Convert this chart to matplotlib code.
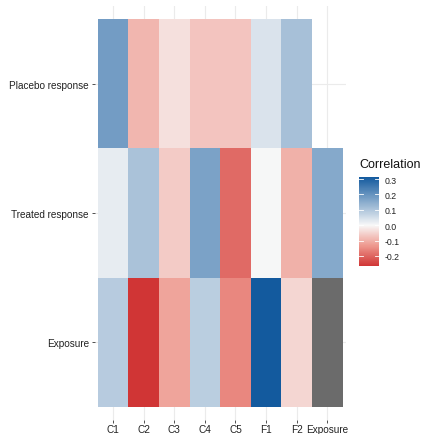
import matplotlib
matplotlib.use("Agg")
import matplotlib.pyplot as plt
import numpy as np
from matplotlib.colors import LinearSegmentedColormap, Normalize
from matplotlib.cm import ScalarMappable

plt.rcParams['font.family'] = ['Liberation Sans', 'DejaVu Sans']

# correlation of each variable with the three outcomes
variables = ["C1", "C2", "C3", "C4", "C5", "F1", "F2", "Exposure"]
outcomes = ["Exposure", "Treated response", "Placebo response"]   # bottom to top

placebo = [0.18, -0.093, -0.033, -0.071, -0.071, 0.042, 0.11, np.nan]
treated = [0.023, 0.107, -0.062, 0.17, -0.195, 0.002, -0.10, 0.155]
exposure = [0.089, -0.265, -0.118, 0.084, -0.156, 0.313, -0.046, 1.0]

corr = np.array([exposure, treated, placebo])
vmin, vmax = -0.265, 0.313
cbar_ticks = [-0.2, -0.1, 0.0, 0.1, 0.2, 0.3]

# diverging red-white-blue with white pinned at zero
mid = (0 - vmin) / (vmax - vmin)
cmap = LinearSegmentedColormap.from_list(
    "corr", [(0.0, "#d03535"), (mid / 2, "#ee998f"), (mid, "#f8f8f8"),
             (1.0, "#135a9e")])
cmap.set_over("#6b6b6b")
cmap.set_bad((1, 1, 1, 0))
norm = Normalize(vmin=vmin, vmax=vmax)

fig = plt.figure(figsize=(4.22, 4.35), dpi=100)
W, H = 422, 435
ax = fig.add_axes([94.6 / W, 1 - 421 / H, (345.7 - 94.6) / W, (421 - 7) / H])

nx, ny = len(variables), len(outcomes)
ax.set_xlim(-0.6, nx - 0.4)
ax.set_ylim(-0.6, ny - 0.4)
for i in range(nx):
    ax.axvline(i, color="#ebebeb", lw=0.8, zorder=0)
for j in range(ny):
    ax.axhline(j, color="#ebebeb", lw=0.8, zorder=0)

xe = np.arange(nx + 1) - 0.5
ye = np.arange(ny + 1) - 0.5
ax.pcolormesh(xe, ye, np.ma.masked_invalid(corr), cmap=cmap, norm=norm,
              zorder=1, edgecolors="none")

ax.set_xticks(range(nx))
ax.set_xticklabels(variables)
ax.set_yticks(range(ny))
ax.set_yticklabels(outcomes)
ax.tick_params(length=2.2, width=0.6, color="#333333", labelsize=7.2,
               labelcolor="#222222")
ax.tick_params(axis="x", pad=0.6)
ax.tick_params(axis="y", pad=2)
for s in ax.spines.values():
    s.set_visible(False)

# legend colour bar
cax = fig.add_axes([359 / W, 1 - 267 / H, 20 / W, (267 - 178) / H])
cb = fig.colorbar(ScalarMappable(norm=norm, cmap=cmap), cax=cax, ticks=cbar_ticks)
cb.outline.set_visible(False)
cb.ax.tick_params(length=0, labelsize=6.3, labelcolor="#222222", pad=4)
cb.ax.set_yticklabels([f"{t:.1f}" for t in cbar_ticks])
for t in cbar_ticks:
    cax.plot([0, 0.2], [t, t], color="white", lw=0.6, transform=cax.get_yaxis_transform())
    cax.plot([0.8, 1.0], [t, t], color="white", lw=0.6, transform=cax.get_yaxis_transform())
fig.text(359 / W, 1 - 165 / H, "Correlation", fontsize=9, color="#111111",
         ha="left", va="center")

fig.savefig("out.png", dpi=100)
